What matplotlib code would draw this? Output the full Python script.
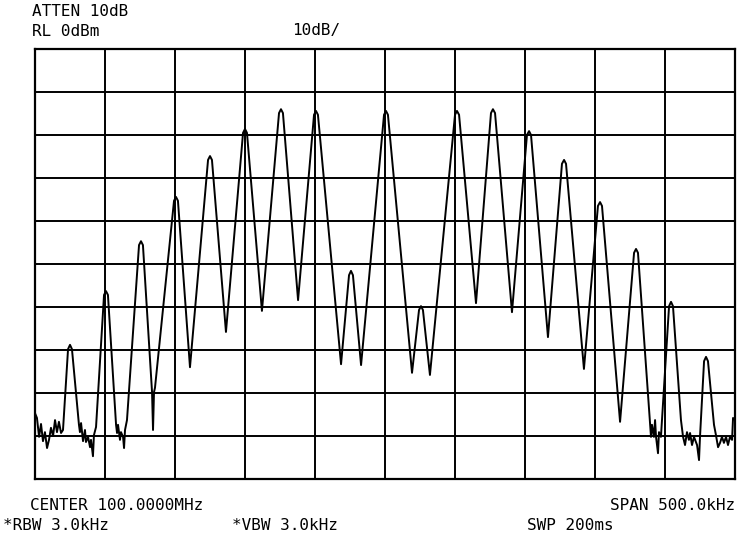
import matplotlib
matplotlib.use("Agg")
import matplotlib.pyplot as plt
import numpy as np


# trace: frequency offset from center (kHz) and level (dBm)
freq_khz = [
    -250, -248.6, -247.1, -245.7, -244.3, -242.9, -241.4, -240, -238.6, -237.1,
    -235.7, -234.3, -232.9, -231.4, -230,
    -226.4, -225, -223.6,
    -218.6, -217.9, -217.1, -215.7, -214.3, -213.6, -212.1, -210.7, -210, -208.6,
    -207.9, -206.4,
    -200.7, -199.3, -197.9,
    -192.1, -191.4, -190.7, -189.3, -188.6, -187.1, -186.4, -185.7, -184.3,
    -175.7, -174.3, -172.9,
    -166.4, -165.7, -165, -164.3,
    -150.7, -149.3, -147.9,
    -139.3,
    -126.4, -125, -123.6,
    -113.6,
    -101.4, -100, -98.6,
    -87.9,
    -75.7, -74.3, -72.9,
    -62.1,
    -50.7, -49.3, -47.9,
    -31.4,
    -25.7, -24.3, -22.9,
    -17.1,
    -0.7, 0.7, 2.1,
    19.3,
    24.3, 25.7, 27.1,
    32.1,
    50, 51.4, 52.9,
    65,
    75.7, 77.1, 78.6,
    90.7,
    101.4, 102.9, 104.3,
    116.4,
    126.4, 127.9, 129.3,
    142.1,
    152.1, 153.6, 155,
    167.9,
    177.9, 179.3, 180.7,
    188.6, 190, 190.7, 192.1, 192.9, 193.6, 195, 195.7, 197.1,
    202.9, 204.3, 205.7,
    211.4, 212.9, 214.3, 215.7, 217.1, 217.9, 219.3, 220.7, 222.9, 224.3, 225,
    227.9, 229.3, 230.7,
    235, 236.4, 237.9, 239.3, 240.7, 242.1, 243.6, 245, 246.4, 247.9, 248.6, 250,
]
level_dbm = [
    -84.7, -85.8, -90.2, -87.2, -91.2, -89.1, -92.8, -90.9, -88.1, -90.0,
    -86.3, -89.1, -86.7, -89.3, -88.6,
    -69.8, -68.8, -69.8,
    -87.4, -89.1, -87.0, -91.2, -88.6, -91.4, -90.2, -92.6, -90.9, -94.7,
    -89.8, -87.9,
    -57.2, -56.3, -57.2,
    -87.4, -89.3, -87.4, -90.9, -89.1, -90.2, -92.8, -88.6, -86.3,
    -45.6, -44.7, -45.6,
    -79.8, -88.6, -79.8, -78.8,
    -35.3, -34.4, -35.3,
    -74.0,
    -25.8, -24.9, -25.8,
    -65.8,
    -19.5, -18.6, -19.5,
    -60.9,
    -14.9, -14.0, -14.9,
    -58.4,
    -15.3, -14.4, -15.3,
    -73.3,
    -52.6, -51.6, -52.6,
    -73.5,
    -15.3, -14.4, -15.3,
    -75.3,
    -60.7, -59.8, -60.7,
    -75.8,
    -15.3, -14.4, -15.3,
    -59.1,
    -14.9, -14.0, -14.9,
    -61.2,
    -20.0, -19.1, -20.0,
    -67.0,
    -26.7, -25.8, -26.7,
    -74.4,
    -36.5, -35.6, -36.5,
    -86.7,
    -47.4, -46.5, -47.4,
    -84.0, -90.2, -87.4, -90.2, -86.3, -90.2, -94.0, -89.1, -90.2,
    -59.8, -58.8, -59.8,
    -86.3, -90.2, -92.1, -89.1, -90.9, -89.3, -92.1, -90.2, -92.1, -95.6, -90.2,
    -72.6, -71.6, -72.6,
    -87.4, -89.8, -92.6, -91.6, -90.2, -91.6, -90.2, -92.1, -90.2, -90.9, -85.8, -86.3,
]

span_khz = 500
ref_level = 0
db_per_div = 10

header_lines = ["ATTEN 10dB", "RL 0dBm"]
scale_label = "10dB/"
footer_row1 = ["CENTER 100.0000MHz", "SPAN 500.0kHz"]
footer_row2 = ["*RBW 3.0kHz", "*VBW 3.0kHz", "SWP 200ms"]


W, H = 738, 544
fig = plt.figure(figsize=(W / 100, H / 100), dpi=100)
ax = fig.add_axes([35 / W, 1 - 479 / H, 700 / W, 430 / H])

ax.plot(freq_khz, level_dbm, color="black", lw=1.4, solid_joinstyle="round")

ax.set_xlim(-span_khz / 2, span_khz / 2)
ax.set_ylim(ref_level - 10 * db_per_div, ref_level)
ax.set_xticks(np.linspace(-span_khz / 2, span_khz / 2, 11))
ax.set_yticks(np.arange(ref_level - 10 * db_per_div, ref_level + 1, db_per_div))
ax.tick_params(length=0, labelbottom=False, labelleft=False)
ax.grid(True, color="black", lw=1.4)
for s in ax.spines.values():
    s.set_linewidth(1.6)

txt = dict(family="DejaVu Sans Mono", fontsize=11.5, color="black", va="center")


def px(x, y):
    return x / W, 1 - y / H


fig.text(*px(32, 12), header_lines[0], **txt)
fig.text(*px(32, 31), header_lines[1], **txt)
fig.text(*px(292, 31), scale_label, **txt)

fig.text(*px(30, 505), footer_row1[0], **txt)
fig.text(*px(735, 505), footer_row1[1], ha="right", **txt)
fig.text(*px(3, 525), footer_row2[0], **txt)
fig.text(*px(232, 525), footer_row2[1], **txt)
fig.text(*px(527, 525), footer_row2[2], **txt)

fig.savefig("out.png", dpi=100)
